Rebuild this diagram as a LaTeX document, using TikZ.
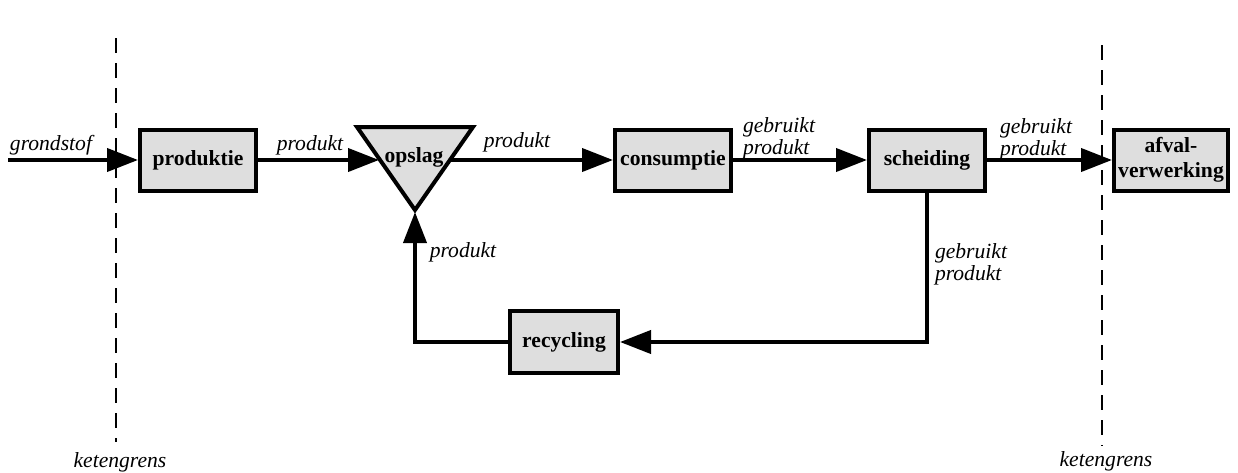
\documentclass[tikz,border=0pt]{standalone}
\usepackage{fontspec}
\setmainfont{Liberation Serif}
\usetikzlibrary{arrows.meta}
\begin{document}
\begin{tikzpicture}[x=0.5pt,y=-0.5pt,
  flow/.style={line width=2pt,-{Triangle[length=15.5pt,width=11.5pt]}},
  procbox/.style={draw,line width=2pt,fill=black!13,
    font=\fontsize{10.8}{12.5}\selectfont\bfseries,
    minimum width=58pt,minimum height=30.5pt,inner sep=1pt,align=center},
  boxtext/.style={font=\fontsize{10.8}{12.5}\selectfont\bfseries,inner sep=0pt},
  lbl/.style={font=\fontsize{10.8}{11}\selectfont\itshape,inner sep=0pt,align=left},
  border/.style={line width=0.7pt,dash pattern=on 7.5pt off 5pt}]
\useasboundingbox (0,0) rectangle (1238,472);

% chain boundaries
\coordinate (kl1) at (116,38);
\coordinate (kl2) at (116,442);
\coordinate (kr1) at (1102,45);
\coordinate (kr2) at (1102,446);
\draw[border] (kl1) -- (kl2);
\draw[border] (kr1) -- (kr2);
\node[lbl] (kgl) at (120,462) {ketengrens};
\node[lbl] (kgr) at (1106,461) {ketengrens};

% process boxes
\node[procbox] (produktie) at (198,160) {produktie};
\node[procbox] (consumptie) at (673,160) {consumptie};
\node[procbox] (scheiding) at (927,160) {scheiding};
\node[procbox,minimum width=57pt] (afval) at (1171,160) {afval-\\verwerking};
\node[procbox,minimum width=54pt,minimum height=31pt] (recycling) at (564,342) {recycling};

% storage triangle
\coordinate (tl) at (357,127);
\coordinate (tr) at (473,127);
\coordinate (apex) at (415,210);
\draw[line width=2pt,fill=black!13,line join=miter] (tl) -- (tr) -- (apex) -- cycle;
\node[boxtext] (opslag) at (414,157) {opslag};
\coordinate (opin) at (379,160);
\coordinate (opout) at (451,160);
\coordinate (apexin) at (415,212);

% flows
\coordinate (src) at (8,160);
\draw[flow] (src) -- (produktie);
\draw[flow] (produktie) -- (opin);
\draw[flow] (opout) -- (consumptie);
\draw[flow] (consumptie) -- (scheiding);
\draw[flow] (scheiding) -- (afval);
\draw[flow] (scheiding.south) |- (recycling.east);
\draw[flow] (recycling.west) -| (apexin);

% flow labels
\node[lbl] (lgrond) at (51,145) {grondstof};
\node[lbl] (lprod1) at (310,145) {produkt};
\node[lbl] (lprod2) at (517,142) {produkt};
\node[lbl] (lgeb1) at (779,138) {gebruikt\\produkt};
\node[lbl] (lgeb2) at (1036,139) {gebruikt\\produkt};
\node[lbl] (lgeb3) at (971,264) {gebruikt\\produkt};
\node[lbl] (lprod3) at (463,252) {produkt};
\end{tikzpicture}
\end{document}
